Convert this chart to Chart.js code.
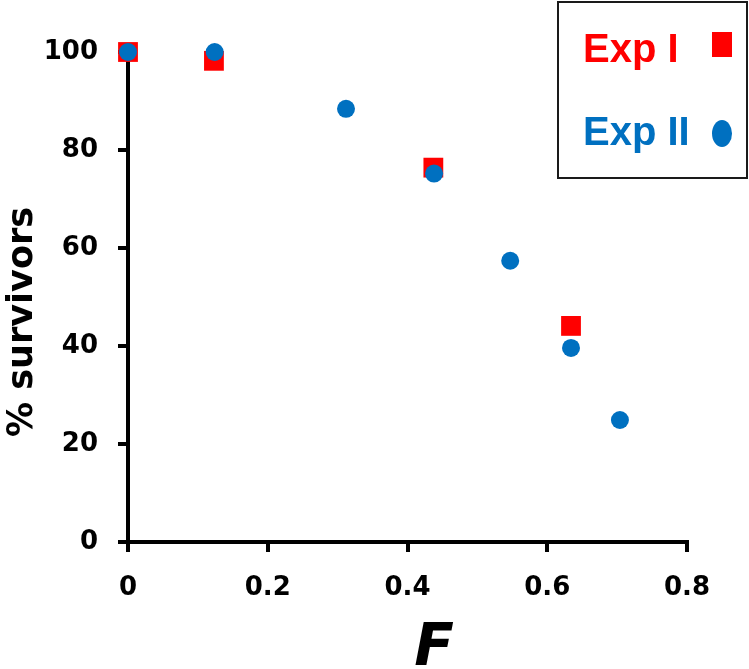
<!DOCTYPE html>
<html>
<head>
<meta charset="utf-8">
<script src="https://cdn.jsdelivr.net/npm/chart.js@4"></script>
<style>
  html, body { margin: 0; padding: 0; background: #fff; }
  #wrap { width: 749px; height: 669px; }
</style>
</head>
<body>
<div id="wrap"><canvas id="c" width="749" height="669"></canvas></div>
<script>
// ---- data ----
const expILabel = "Exp I";
const expIILabel = "Exp II";
const expIx = [0, 0.123, 0.437, 0.634];
const expIy = [100, 98.2, 76.4, 44.1];
const expIIx = [0, 0.124, 0.312, 0.438, 0.547, 0.634, 0.704];
const expIIy = [100, 100, 88.4, 75.2, 57.4, 39.6, 24.9];
const xTickValues = [0, 0.2, 0.4, 0.6, 0.8];
const yTickValues = [0, 20, 40, 60, 80, 100];
const xTitle = "F";
const yTitle = "% survivors";

const RED = "#FF0000";
const BLUE = "#0070C0";

const toPts = (xs, ys) => xs.map((x, i) => ({ x: x, y: ys[i] }));

const titlesAndLegend = {
  id: "titlesAndLegend",
  afterDraw(chart) {
    const ctx = chart.ctx;
    ctx.save();
    // y title
    ctx.fillStyle = "#000";
    ctx.font = "bold 35px 'DejaVu Sans'";
    ctx.textAlign = "center";
    ctx.textBaseline = "middle";
    ctx.translate(23, 322);
    ctx.rotate(-Math.PI / 2);
    ctx.fillText(yTitle, 0, 0);
    ctx.restore();

    ctx.save();
    ctx.fillStyle = "#000";
    ctx.font = "bold oblique 58px 'DejaVu Sans'";
    ctx.textAlign = "center";
    ctx.textBaseline = "alphabetic";
    ctx.fillText(xTitle, 434, 665);
    ctx.restore();

    // legend box
    ctx.save();
    ctx.strokeStyle = "#1a1a1a";
    ctx.lineWidth = 2;
    ctx.strokeRect(558, 2, 189, 176);
    ctx.font = "bold 40px 'Liberation Sans'";
    ctx.textAlign = "left";
    ctx.textBaseline = "alphabetic";
    ctx.fillStyle = RED;
    ctx.fillText(expILabel, 583, 62);
    ctx.fillRect(712, 32, 20, 25);
    ctx.fillStyle = BLUE;
    ctx.fillText(expIILabel, 583, 145);
    ctx.beginPath();
    ctx.ellipse(722, 133.5, 10, 13.5, 0, 0, Math.PI * 2);
    ctx.fill();
    ctx.restore();
  }
};

new Chart(document.getElementById("c"), {
  type: "scatter",
  data: {
    datasets: [
      {
        label: expILabel,
        data: toPts(expIx, expIy),
        pointStyle: "rect",
        pointRadius: 14,
        pointHoverRadius: 14,
        backgroundColor: RED,
        borderWidth: 0,
        order: 1,
        clip: false
      },
      {
        label: expIILabel,
        data: toPts(expIIx, expIIy),
        pointStyle: "circle",
        pointRadius: 9,
        pointHoverRadius: 9,
        backgroundColor: BLUE,
        borderWidth: 0,
        order: 0,
        clip: false
      }
    ]
  },
  options: {
    responsive: false,
    animation: false,
    layout: { padding: { left: 0, right: 62, top: 52, bottom: 0 } },
    plugins: {
      legend: { display: false },
      tooltip: { enabled: false }
    },
    scales: {
      x: {
        type: "linear",
        min: 0,
        max: 0.8,
        afterBuildTicks: (s) => { s.ticks = xTickValues.map(v => ({ value: v })); },
        afterFit: (s) => { s.height = 127; },
        border: { display: true, color: "#000", width: 4 },
        grid: { display: true, drawOnChartArea: false, drawTicks: true, tickLength: 10, color: "#000", lineWidth: 4 },
        ticks: {
          padding: 21,
          color: "#000",
          font: { family: "'DejaVu Sans'", size: 26, weight: "bold" },
          callback: (v) => String(Number(v.toFixed(1)))
        }
      },
      y: {
        type: "linear",
        min: 0,
        max: 100,
        afterBuildTicks: (s) => { s.ticks = yTickValues.map(v => ({ value: v })); },
        afterFit: (s) => { s.width = 128; },
        border: { display: true, color: "#000", width: 4 },
        grid: { display: true, drawOnChartArea: false, drawTicks: true, tickLength: 10, color: "#000", lineWidth: 4 },
        ticks: {
          padding: 20,
          color: "#000",
          font: { family: "'DejaVu Sans'", size: 26, weight: "bold" },
          callback: (v) => String(v)
        }
      }
    }
  },
  plugins: [titlesAndLegend]
});
</script>
</body>
</html>
